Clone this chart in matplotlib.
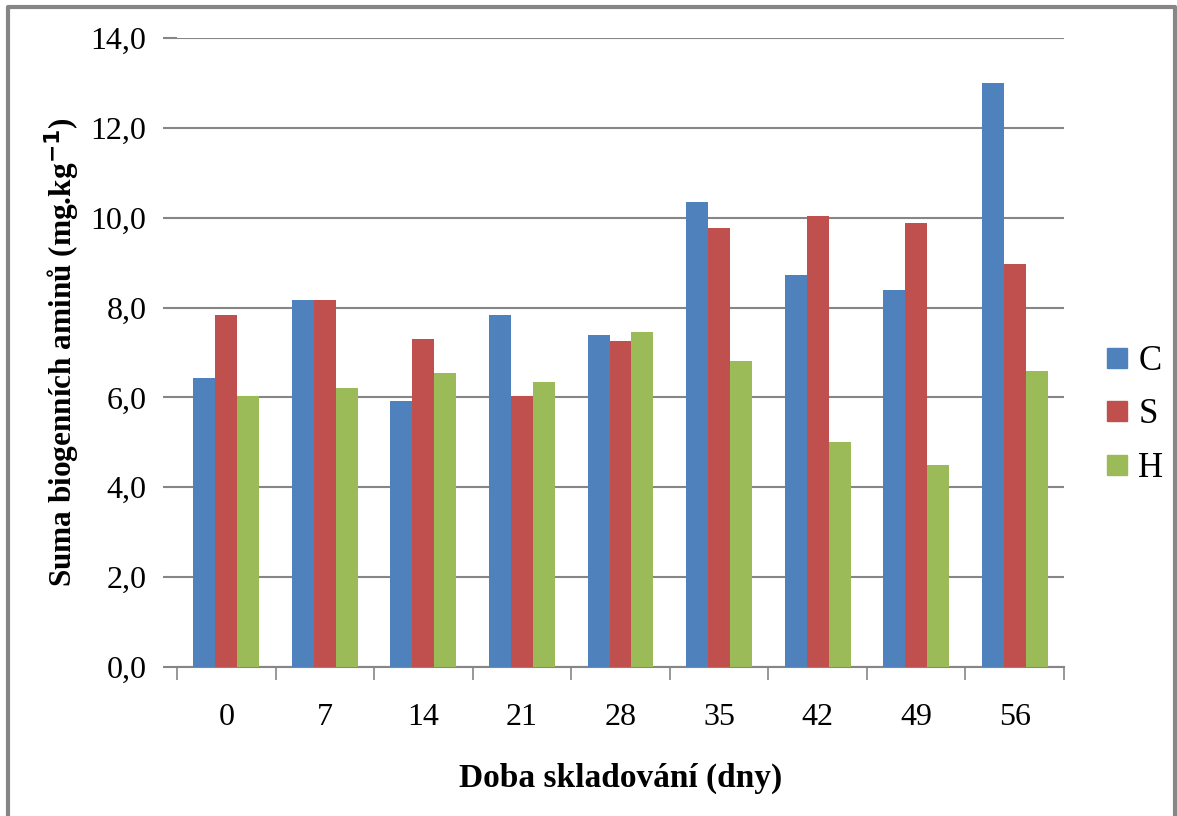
import numpy as np
import matplotlib
matplotlib.use("Agg")
import matplotlib.pyplot as plt
from matplotlib.lines import Line2D

# Chart data
days = ["0", "7", "14", "21", "28", "35", "42", "49", "56"]
series_names = ["C", "S", "H"]
c_vals = [6.44, 8.17, 5.92, 7.84, 7.39, 10.36, 8.73, 8.38, 13.00]
s_vals = [7.84, 8.17, 7.30, 6.04, 7.26, 9.76, 10.04, 9.89, 8.96]
h_vals = [6.04, 6.21, 6.55, 6.35, 7.46, 6.81, 5.00, 4.49, 6.58]
colors = ["#4F81BD", "#C0504D", "#9BBB59"]

plt.rcParams["font.family"] = ["Liberation Serif", "DejaVu Serif"]

fig = plt.figure(figsize=(11.77, 8.16), dpi=100)
ax = fig.add_axes([177 / 1177, 1 - 667 / 816, (1064 - 177) / 1177, (667 - 38) / 816])

x = np.arange(len(days))
width = 0.223
grid_col = "#868686"

for i, (vals, col) in enumerate(zip([c_vals, s_vals, h_vals], colors)):
    ax.bar(x + (i - 1) * width, vals, width, color=col, zorder=3, label=series_names[i])

ax.set_xlim(-0.5, len(days) - 0.5)
ax.set_ylim(0, 14)
ax.set_yticks(np.arange(0, 14.1, 2))
ax.set_yticklabels([f"{v:.1f}".replace(".", ",") for v in np.arange(0, 14.1, 2)])
ax.yaxis.grid(True, color=grid_col, linewidth=1.5, zorder=0)
ax.tick_params(axis="y", length=10, color=grid_col, width=1.5, labelsize=23, pad=12)

ax.set_xticks(x)
ax.set_xticklabels(days)
ax.set_xticks(np.arange(-0.5, len(days)), minor=True)
ax.tick_params(axis="x", which="major", length=0, labelsize=23, pad=26)
ax.tick_params(axis="x", which="minor", length=9, color=grid_col, width=1.2)

for side in ["top", "right", "left"]:
    ax.spines[side].set_visible(False)
ax.spines["bottom"].set_color(grid_col)
ax.spines["bottom"].set_linewidth(1.5)

ax.set_xlabel("Doba skladování (dny)", fontsize=24, fontweight="bold", labelpad=22)
ax.set_ylabel("Suma biogenních aminů (mg.kg$^{\\mathbf{-1}}$)", fontsize=22.5,
              fontweight="bold", labelpad=6)

handles = [Line2D([], [], marker="s", linestyle="none", markersize=14,
                  markerfacecolor=c, markeredgecolor=c) for c in colors]
fig.legend(handles, series_names, loc="center left",
           bbox_to_anchor=(1100 / 1177, 1 - 415 / 816), frameon=False,
           fontsize=25, handletextpad=0.1, labelspacing=0.6, handlelength=1.0,
           borderpad=0, borderaxespad=0)

# outer chart border
bx0, bx1, by1 = 8 / 1177, 1175 / 1177, 1 - 7 / 816
fig.add_artist(Line2D([bx0, bx0, bx1, bx1], [0, by1, by1, 0],
                      transform=fig.transFigure, color=grid_col, linewidth=3))

fig.savefig("out.png", dpi=100)
